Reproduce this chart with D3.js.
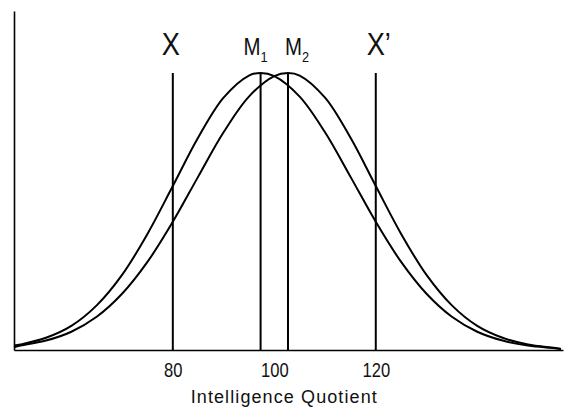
<!DOCTYPE html>
<html>
<head>
<meta charset="utf-8">
<script src="https://cdn.jsdelivr.net/npm/d3@7"></script>
<style>
  body { margin: 0; background: #fff; }
  svg { display: block; }
</style>
</head>
<body>
<div id="chart"></div>
<script>
// IQ values along the x axis where the curves were read
var iq1 = [48.7, 50, 55, 60, 65, 70, 75, 80, 85, 90, 95, 97.3, 100, 105, 110, 115, 120, 125, 130, 135, 140, 145, 150, 155, 156.5];
// curve around M1, height as % of its peak
var freq1 = [1.6, 2.0, 4.4, 8.7, 16.1, 27.1, 41.9, 59.2, 76.7, 91.1, 99.1, 100, 98.9, 91.5, 78.6, 62.6, 46.3, 31.8, 20.3, 12.0, 6.6, 3.4, 1.6, 0.7, 0.4];

var iq2 = [48.7, 50, 55, 60, 65, 70, 75, 80, 85, 90, 95, 100, 102.7, 105, 110, 115, 120, 125, 130, 135, 140, 145, 150, 155, 156.5];
// curve around M2
var freq2 = [1.0, 1.6, 3.4, 6.6, 12.0, 20.3, 31.8, 46.3, 62.6, 78.6, 91.5, 98.9, 100, 99.1, 91.1, 76.7, 59.2, 41.9, 27.1, 16.1, 8.7, 4.4, 2.0, 0.8, 0.4];

// vertical markers
var markerNames = ["X", "M1", "M2", "X'"];
var markerIQ = [80, 97.3, 102.7, 120];

var tickValues = [80, 100, 120];
var xTitle = "Intelligence Quotient";

var margin = {top: 11, right: 3, bottom: 61, left: 14},
    width = 566 - margin.left - margin.right,
    height = 411 - margin.top - margin.bottom;

var font = "'Liberation Sans', Arial, Helvetica, sans-serif";
var squeeze = 0.85;   // the original type is a narrow face

var svg = d3.select("#chart")
  .append("svg")
    .attr("width", width + margin.left + margin.right)
    .attr("height", height + margin.top + margin.bottom)
  .append("g")
    .attr("transform", "translate(" + margin.left + "," + margin.top + ")");

var x = d3.scaleLinear()
  .domain([48.7, 156.9])
  .range([0, width]);

var y = d3.scaleLinear()
  .domain([0, 122.4])
  .range([height, 0]);

// axes: plain lines, no tick marks
var xAxis = svg.append("g")
  .attr("transform", "translate(0," + height + ")")
  .call(d3.axisBottom(x).tickValues(tickValues).tickSize(0).tickPadding(13));
xAxis.select(".domain").attr("stroke", "#000").attr("stroke-width", 1.6);
xAxis.selectAll("text")
  .style("font-family", font)
  .style("font-size", "19.5px")
  .attr("fill", "#111")
  .attr("transform", "scale(" + squeeze + ",1)");

var yAxis = svg.append("g")
  .call(d3.axisLeft(y).tickValues([]).tickSize(0));
yAxis.select(".domain").attr("stroke", "#000").attr("stroke-width", 1.6);

svg.append("text")
  .attr("x", x(100) + 10)
  .attr("y", height + 53)
  .attr("text-anchor", "middle")
  .style("font-family", font)
  .style("font-size", "18px")
  .style("letter-spacing", "1.1px")
  .attr("fill", "#111")
  .text(xTitle);

// the two distributions
var line = d3.line()
  .x(function(d) { return x(d[0]); })
  .y(function(d) { return y(d[1]); })
  .curve(d3.curveCatmullRom.alpha(0.5));

[[iq1, freq1], [iq2, freq2]].forEach(function(s) {
  svg.append("path")
    .datum(d3.zip(s[0], s[1]))
    .attr("fill", "none")
    .attr("stroke", "#000")
    .attr("stroke-width", 2)
    .attr("d", line);
});

// vertical lines up to peak height
svg.selectAll(".marker")
  .data(markerIQ)
  .enter()
  .append("line")
    .attr("class", "marker")
    .attr("x1", function(d) { return x(d); })
    .attr("x2", function(d) { return x(d); })
    .attr("y1", y(0))
    .attr("y2", y(100))
    .attr("stroke", "#000")
    .attr("stroke-width", 2);

// labels above the lines
markerNames.forEach(function(name, i) {
  var px = x(markerIQ[i]);
  var t = svg.append("text")
    .style("font-family", font)
    .attr("fill", "#111");
  if (name[0] == "X") {
    t.attr("transform", "translate(" + (px + (name.length > 1 ? 3 : -2)) + ",44) scale(" + squeeze + ",1)")
      .attr("text-anchor", "middle")
      .style("font-size", "32px")
      .text(name == "X'" ? "X\u2019" : "X");
  } else {
    var sub = name.slice(1);
    t.attr("transform", "translate(" + (sub == "1" ? px + 7 : px - 3) + ",44) scale(" + squeeze + ",1)")
      .attr("text-anchor", sub == "1" ? "end" : "start")
      .style("font-size", "24px");
    t.append("tspan").text("M");
    t.append("tspan")
      .attr("dy", 7)
      .style("font-size", "15px")
      .text(sub);
  }
});
</script>
</body>
</html>
